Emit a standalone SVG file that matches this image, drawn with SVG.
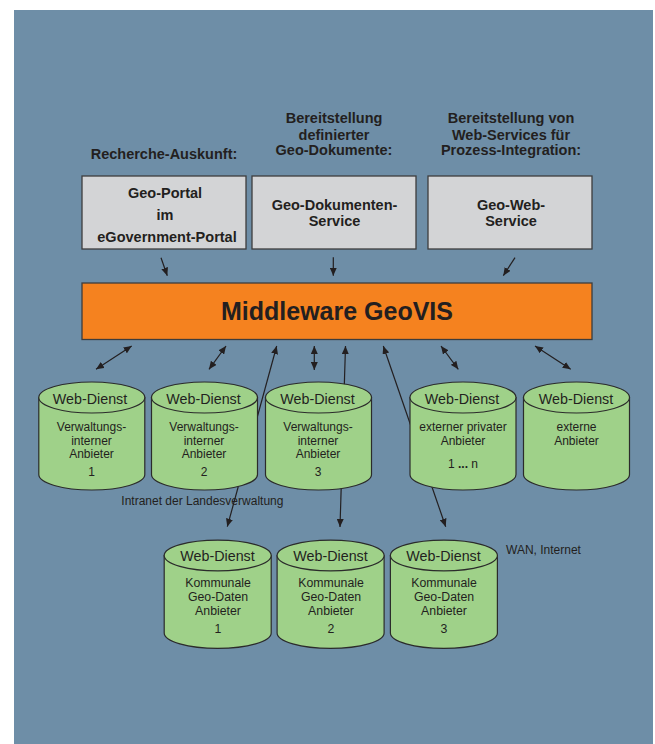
<svg xmlns="http://www.w3.org/2000/svg" width="655" height="744" viewBox="0 0 655 744">
<style>
text{font-family:"Liberation Sans",Arial,sans-serif;fill:#231f20;text-anchor:middle}
.h{font-size:14.5px;font-weight:bold}
.mw{font-size:25px;font-weight:bold}
.wd{font-size:14.3px}
.b{font-size:12px}
.k{font-size:12.3px}
.lab{font-size:12px;text-anchor:start}
.box{fill:#d3d4d6;stroke:#3d3d3d;stroke-width:1.3}
.cyl{fill:#9fd189;stroke:#2b2b2b;stroke-width:1.2}
.c{fill:none;stroke:#231f20;stroke-width:1.2}
</style>
<defs>
<marker id="ah" markerUnits="userSpaceOnUse" markerWidth="9" markerHeight="7" refX="8" refY="3.5" orient="auto-start-reverse">
<path d="M0,0 L8,3.5 L0,7 z" fill="#231f20"/>
</marker>
</defs>
<rect x="14" y="10" width="639" height="734" fill="#6e8ea7"/>

<g id="connectors">
<line class="c" x1="161" y1="257.7" x2="167.3" y2="275.7" marker-end="url(#ah)"/>
<line class="c" x1="333.3" y1="257.3" x2="333.3" y2="275.7" marker-end="url(#ah)"/>
<line class="c" x1="515" y1="257.7" x2="503.3" y2="275.7" marker-end="url(#ah)"/>
<line class="c" x1="96" y1="369.3" x2="131.7" y2="346" marker-start="url(#ah)" marker-end="url(#ah)"/>
<line class="c" x1="209" y1="369.3" x2="226" y2="346" marker-start="url(#ah)" marker-end="url(#ah)"/>
<line class="c" x1="227.3" y1="526.7" x2="276.7" y2="346" marker-start="url(#ah)" marker-end="url(#ah)"/>
<line class="c" x1="314.3" y1="370" x2="314.3" y2="346" marker-start="url(#ah)" marker-end="url(#ah)"/>
<line class="c" x1="340" y1="527" x2="345.5" y2="346" marker-start="url(#ah)" marker-end="url(#ah)"/>
<line class="c" x1="383.3" y1="346" x2="445.7" y2="526.7" marker-start="url(#ah)" marker-end="url(#ah)"/>
<line class="c" x1="441" y1="346" x2="458.3" y2="369.3" marker-start="url(#ah)" marker-end="url(#ah)"/>
<line class="c" x1="535" y1="346" x2="570.7" y2="369.3" marker-start="url(#ah)" marker-end="url(#ah)"/>
</g>

<g id="headers">
<text class="h" x="164" y="158.5">Recherche-Auskunft:</text>
<text class="h" x="334" y="123">Bereitstellung</text>
<text class="h" x="334" y="139.5">definierter</text>
<text class="h" x="334" y="155">Geo-Dokumente:</text>
<text class="h" x="511" y="123">Bereitstellung von</text>
<text class="h" x="511" y="139.5">Web-Services für</text>
<text class="h" x="511" y="155">Prozess-Integration:</text>
</g>

<g id="geoportal">
<rect class="box" x="82" y="176" width="164" height="73"/>
<text class="h" x="165" y="198">Geo-Portal</text>
<text class="h" x="165" y="220">im</text>
<text class="h" x="167" y="242">eGovernment-Portal</text>
</g>
<g id="geodokservice">
<rect class="box" x="252" y="176" width="164" height="73"/>
<text class="h" x="334.5" y="210">Geo-Dokumenten-</text>
<text class="h" x="334.5" y="226">Service</text>
</g>
<g id="geowebservice">
<rect class="box" x="428" y="176" width="164" height="73"/>
<text class="h" x="511" y="210">Geo-Web-</text>
<text class="h" x="511" y="226">Service</text>
</g>

<g id="middleware">
<rect x="82" y="283" width="510" height="56.5" fill="#f5821f" stroke="#3d3d3d" stroke-width="1.3"/>
<text class="mw" x="337" y="320">Middleware GeoVIS</text>
</g>

<g id="wd1">
<path class="cyl" d="M38.8,397.5 V474.5 A53,15.5 0 0 0 144.8,474.5 V397.5 z"/>
<ellipse class="cyl" cx="91.8" cy="397.5" rx="53" ry="15.5"/>
<text class="wd" x="90" y="403.5">Web-Dienst</text>
<text class="b" x="91.5" y="431">Verwaltungs-</text>
<text class="b" x="91.5" y="444.5">interner</text>
<text class="b" x="91.5" y="458">Anbieter</text>
<text class="b" x="91.5" y="476">1</text>
</g>
<g id="wd2">
<path class="cyl" d="M151.5,397.5 V474.5 A53,15.5 0 0 0 257.5,474.5 V397.5 z"/>
<ellipse class="cyl" cx="204.5" cy="397.5" rx="53" ry="15.5"/>
<text class="wd" x="203.5" y="403.5">Web-Dienst</text>
<text class="b" x="204" y="431">Verwaltungs-</text>
<text class="b" x="204" y="444.5">interner</text>
<text class="b" x="204" y="458">Anbieter</text>
<text class="b" x="204" y="476">2</text>
</g>
<g id="wd3">
<path class="cyl" d="M265.5,397.5 V474.5 A53,15.5 0 0 0 371.5,474.5 V397.5 z"/>
<ellipse class="cyl" cx="318.5" cy="397.5" rx="53" ry="15.5"/>
<text class="wd" x="317.5" y="403.5">Web-Dienst</text>
<text class="b" x="318" y="431">Verwaltungs-</text>
<text class="b" x="318" y="444.5">interner</text>
<text class="b" x="318" y="458">Anbieter</text>
<text class="b" x="318" y="476">3</text>
</g>
<g id="wd4">
<path class="cyl" d="M410,397.5 V474.5 A53,15.5 0 0 0 516,474.5 V397.5 z"/>
<ellipse class="cyl" cx="463" cy="397.5" rx="53" ry="15.5"/>
<text class="wd" x="462" y="403.5">Web-Dienst</text>
<text class="b" x="463" y="431">externer privater</text>
<text class="b" x="463" y="444.5">Anbieter</text>
<text class="b" x="463" y="468">1 <tspan font-weight="bold">...</tspan> n</text>
</g>
<g id="wd5">
<path class="cyl" d="M523.5,397.5 V474.5 A53,15.5 0 0 0 629.5,474.5 V397.5 z"/>
<ellipse class="cyl" cx="576.5" cy="397.5" rx="53" ry="15.5"/>
<text class="wd" x="576" y="403.5">Web-Dienst</text>
<text class="b" x="576.5" y="431">externe</text>
<text class="b" x="576.5" y="444.5">Anbieter</text>
</g>

<g id="kd1">
<path class="cyl" d="M164.2,555.5 V633 A53.5,15.3 0 0 0 271.2,633 V555.5 z"/>
<ellipse class="cyl" cx="217.7" cy="555.5" rx="53.5" ry="15.3"/>
<text class="wd" x="217.5" y="560.5">Web-Dienst</text>
<text class="k" x="218" y="587">Kommunale</text>
<text class="k" x="218" y="601">Geo-Daten</text>
<text class="k" x="218" y="615">Anbieter</text>
<text class="k" x="218" y="633">1</text>
</g>
<g id="kd2">
<path class="cyl" d="M277.1,555.5 V633 A53.5,15.3 0 0 0 384.1,633 V555.5 z"/>
<ellipse class="cyl" cx="330.6" cy="555.5" rx="53.5" ry="15.3"/>
<text class="wd" x="330.5" y="560.5">Web-Dienst</text>
<text class="k" x="331" y="587">Kommunale</text>
<text class="k" x="331" y="601">Geo-Daten</text>
<text class="k" x="331" y="615">Anbieter</text>
<text class="k" x="331" y="633">2</text>
</g>
<g id="kd3">
<path class="cyl" d="M390.4,555.5 V633 A53.5,15.3 0 0 0 497.4,633 V555.5 z"/>
<ellipse class="cyl" cx="443.9" cy="555.5" rx="53.5" ry="15.3"/>
<text class="wd" x="443.5" y="560.5">Web-Dienst</text>
<text class="k" x="444" y="587">Kommunale</text>
<text class="k" x="444" y="601">Geo-Daten</text>
<text class="k" x="444" y="615">Anbieter</text>
<text class="k" x="444" y="633">3</text>
</g>

<g id="labels">
<text class="lab" x="121.3" y="505">Intranet der Landesverwaltung</text>
<text class="lab" x="506" y="554">WAN, Internet</text>
</g>
</svg>
